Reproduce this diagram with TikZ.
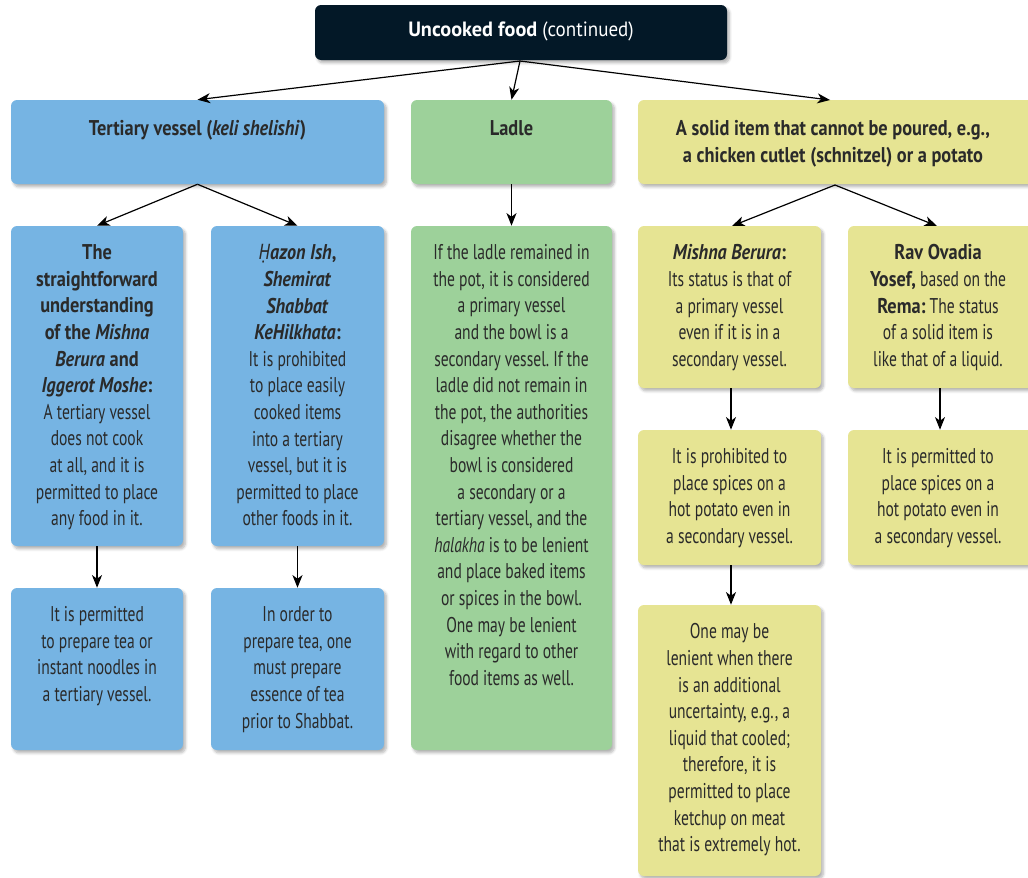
\documentclass[tikz,border=0pt]{standalone}
\usepackage{fontspec}
\setmainfont{PT Sans}[FakeStretch=0.73,
  BoldFeatures={FakeStretch=0.86}, BoldItalicFeatures={FakeStretch=0.85}]
\newfontfamily\titlefont{PT Sans}[FakeStretch=0.92, BoldFeatures={FakeStretch=0.98}]
\newfontfamily\markfont{Noto Sans}[FakeStretch=0.8]
\usetikzlibrary{arrows.meta,fit,shadows.blur}
\frenchspacing

\definecolor{navy}{HTML}{031827}
\definecolor{boxblue}{HTML}{76B4E3}
\definecolor{boxgreen}{HTML}{9DD19A}
\definecolor{boxyellow}{HTML}{E6E493}
\definecolor{ink}{HTML}{2A2A2A}

\tikzset{
  panel/.style={fit={#1}, inner sep=0pt, rounded corners=4.5pt, draw=none,
    blur shadow={shadow blur steps=6, shadow xshift=1.8pt, shadow yshift=-2.2pt,
      shadow blur extra rounding=1.5pt, shadow opacity=30}},
  bluepanel/.style={panel={#1}, fill=boxblue},
  greenpanel/.style={panel={#1}, fill=boxgreen},
  yellowpanel/.style={panel={#1}, fill=boxyellow},
  label/.style={anchor=north, align=center, inner sep=0pt, text=ink,
    font=\fontsize{16}{19.95}\selectfont},
  link/.style={draw=black, line width=0.9pt,
    -{Stealth[length=9.5pt, width=7.5pt, inset=2.8pt]}},
}

\begin{document}
\begin{tikzpicture}[x=0.75pt, y=-0.75pt]
\useasboundingbox (0,0) rectangle (1028,878);

% heading
\node[panel={(315,5) (727,60)}, fill=navy] (title) {};
\node[anchor=center, inner sep=0pt, text=white,
  font=\titlefont\fontsize{15.5}{18}\selectfont] (title-t) at ([yshift=0.5pt]title.center)
  {\textbf{Uncooked food} (continued)};

% first level
\node[bluepanel={(11,100) (384,184)}] (tert) {};
\node[greenpanel={(411,100) (612,184)}] (ladle) {};
\node[yellowpanel={(638,100) (1034,184)}] (solid) {};

\node[label] (tert-t) at ([yshift=-15.5pt]tert.north)
  {\textbf{Tertiary vessel (\textit{keli shelishi})}};
\node[label] (ladle-t) at ([yshift=-15.5pt]ladle.north) {\textbf{Ladle}};
\node[label] (solid-t) at ([yshift=-15.5pt]solid.north -| 833,0)
  {\textbf{A solid item that cannot be poured, e.g.,}\\
   \textbf{a chicken cutlet (schnitzel) or a potato}};

% second level
\node[bluepanel={(11,226) (183,546)}] (mb) {};
\node[bluepanel={(211,226) (384,546)}] (hi) {};
\node[greenpanel={(411,226) (612,750)}] (lad) {};
\node[yellowpanel={(638,226) (821,388)}] (mbs) {};
\node[yellowpanel={(848,226) (1034,388)}] (ro) {};

\node[label] (mb-t) at ([yshift=-14pt]mb.north)
  {\textbf{The}\\ \textbf{straightforward}\\ \textbf{understanding}\\
   \textbf{of the \textit{Mishna}}\\ \textbf{\textit{Berura} and}\\
   \textbf{\textit{Iggerot Moshe}:}\\ A tertiary vessel\\ does not cook\\
   at all, and it is\\ permitted to place\\ any food in it.};
\node[label] (hi-t) at ([yshift=-14pt]hi.north)
  {\textbf{\textit{{\markfont Ḥ}azon Ish},}\\ \textbf{\textit{Shemirat}}\\ \textbf{\textit{Shabbat}}\\
   \textbf{\textit{KeHilkhata}:}\\ It is prohibited\\ to place easily\\
   cooked items\\ into a tertiary\\ vessel, but it is\\ permitted to place\\
   other foods in it.};
\node[label] (lad-t) at ([yshift=-14pt]lad.north)
  {If the ladle remained in\\ the pot, it is considered\\ a primary vessel\\
   and the bowl is a\\ secondary vessel. If the\\ ladle did not remain in\\
   the pot, the authorities\\ disagree whether the\\ bowl is considered\\
   a secondary or a\\ tertiary vessel, and the\\ \textit{halakha} is to be lenient\\
   and place baked items\\ or spices in the bowl.\\ One may be lenient\\
   with regard to other\\ food items as well.};
\node[label] (mbs-t) at ([yshift=-14pt]mbs.north)
  {\textbf{\textit{Mishna Berura}:}\\ Its status is that of\\ a primary vessel\\
   even if it is in a\\ secondary vessel.};
\node[label] (ro-t) at ([yshift=-14pt]ro.north -| 938,0)
  {\textbf{Rav Ovadia}\\ \textbf{Yosef,} based on the\\ \textbf{Rema:} The status\\
   of a solid item is\\ like that of a liquid.};

% third level
\node[bluepanel={(11,588) (183,750)}] (tea) {};
\node[bluepanel={(211,588) (384,750)}] (ess) {};
\node[yellowpanel={(638,430) (821,565)}] (proh) {};
\node[yellowpanel={(848,430) (1034,565)}] (perm) {};
\node[yellowpanel={(638,605) (821,876)}] (len) {};

\node[label] (tea-t) at ([yshift=-14pt]tea.north)
  {It is permitted\\ to prepare tea or\\ instant noodles in\\ a tertiary vessel.};
\node[label] (ess-t) at ([yshift=-14pt]ess.north)
  {In order to\\ prepare tea, one\\ must prepare\\ essence of tea\\ prior to Shabbat.};
\node[label] (proh-t) at ([yshift=-14pt]proh.north)
  {It is prohibited to\\ place spices on a\\ hot potato even in\\ a secondary vessel.};
\node[label] (perm-t) at ([yshift=-14pt]perm.north -| 938,0)
  {It is permitted to\\ place spices on a\\ hot potato even in\\ a secondary vessel.};
\node[label] (len-t) at ([yshift=-14pt]len.north)
  {One may be\\ lenient when there\\ is an additional\\ uncertainty, e.g., a\\
   liquid that cooled;\\ therefore, it is\\ permitted to place\\ ketchup on meat\\
   that is extremely hot.};

% connectors
\coordinate (title-foot) at (520,61);
\coordinate (solid-head) at (830,100);
\draw[link] (title-foot) -- (tert.north);
\draw[link] (title-foot) -- (ladle.north);
\draw[link] (title-foot) -- (solid-head);

\coordinate (solid-foot) at (835,185);
\coordinate (mbs-head) at (732,226);
\coordinate (ro-head) at (937,226);
\draw[link] (tert.south) -- (mb.north);
\draw[link] (tert.south) -- (hi.north);
\draw[link] (ladle.south) -- (lad.north);
\draw[link] (solid-foot) -- (mbs-head);
\draw[link] (solid-foot) -- (ro-head);

\draw[link] (mb.south -| 97,0) -- (tea.north -| 97,0);
\draw[link] (hi.south) -- (ess.north);
\draw[link] (mbs.south -| 731,0) -- (proh.north -| 731,0);
\draw[link] (ro.south -| 940,0) -- (perm.north -| 940,0);
\draw[link] (proh.south -| 731,0) -- (len.north -| 731,0);
\end{tikzpicture}
\end{document}
